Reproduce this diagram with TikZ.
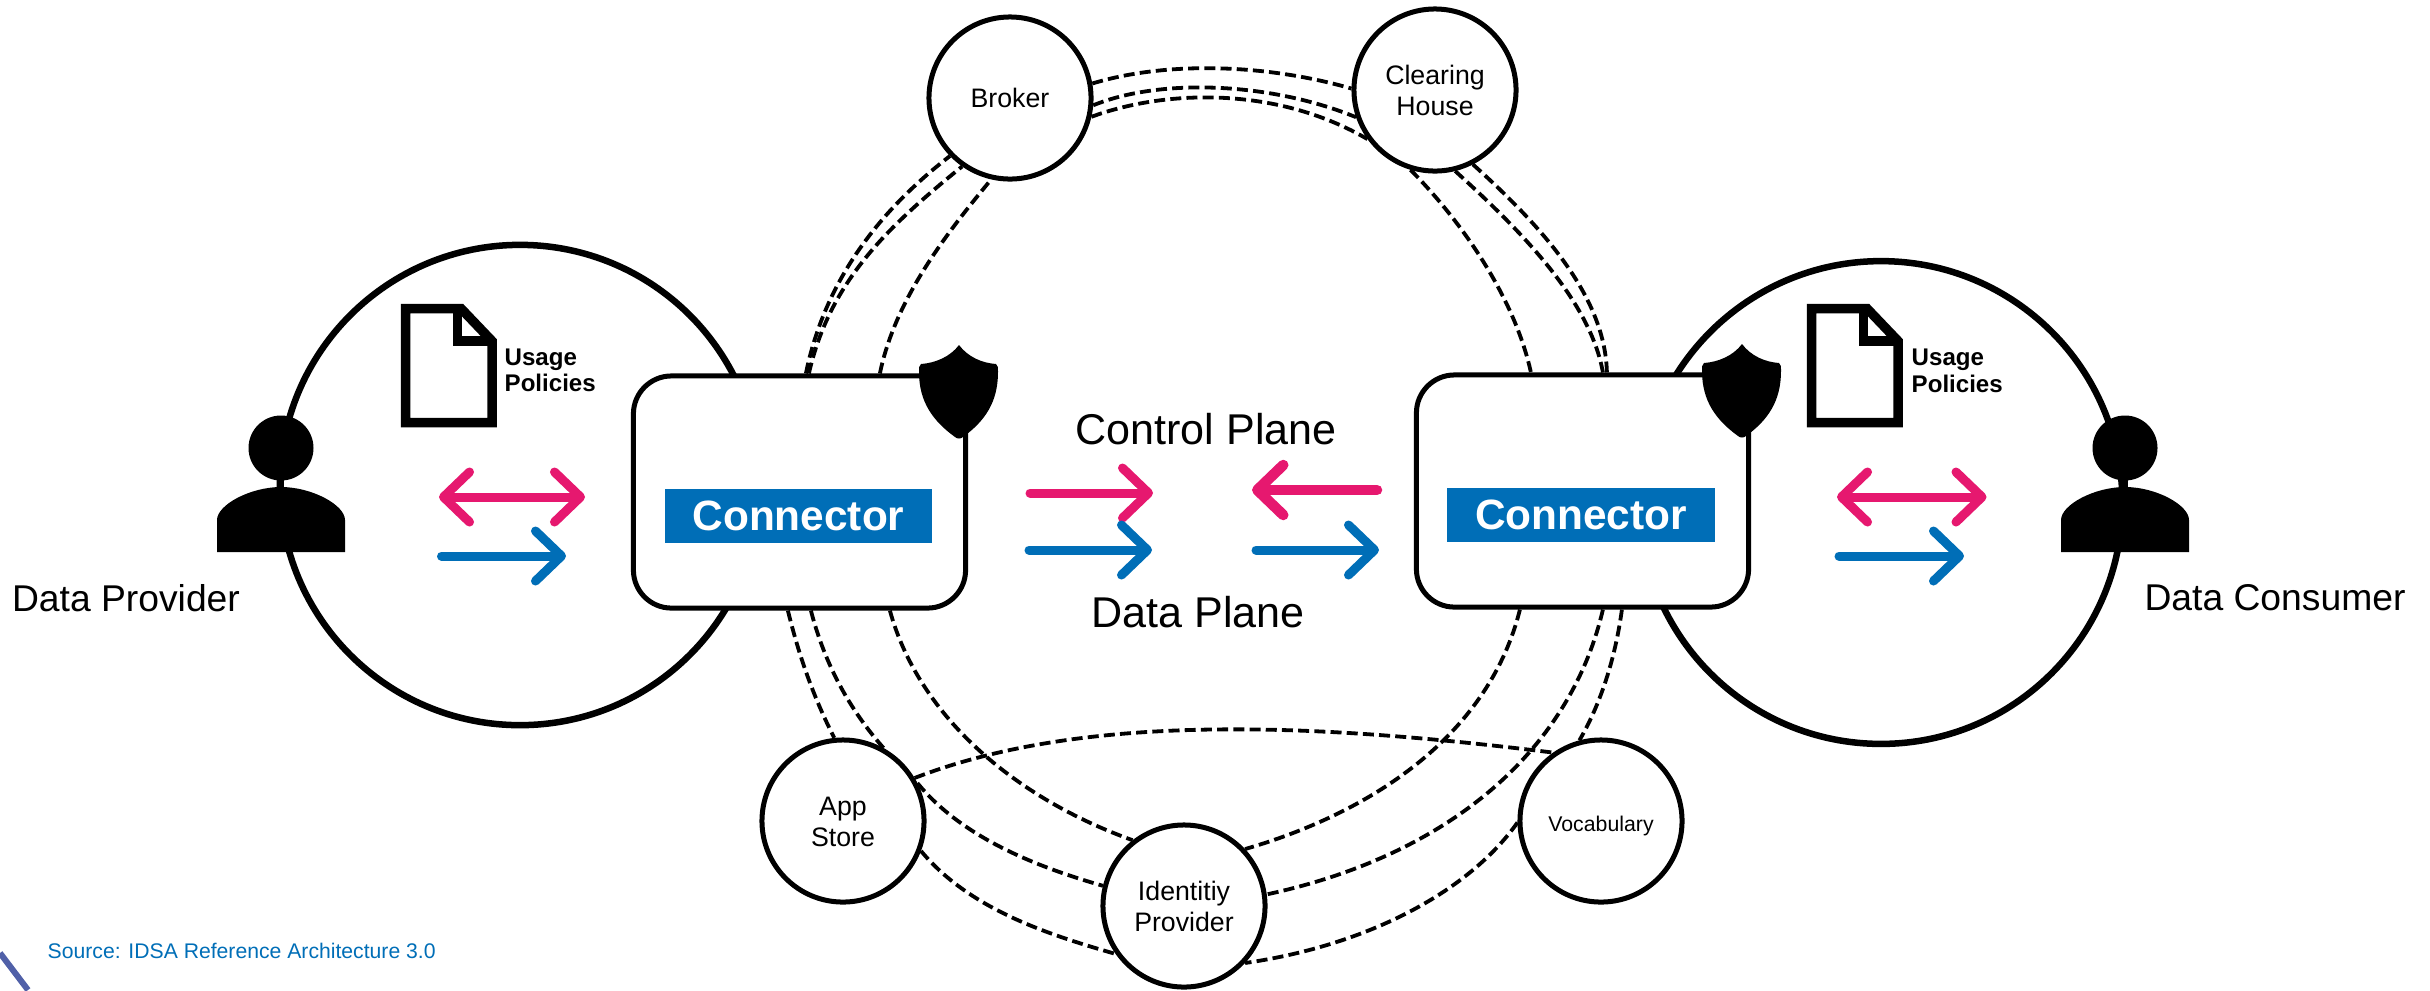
\documentclass[tikz,border=0pt]{standalone}
\usepackage{fontspec}
\setmainfont{Liberation Sans}
\usetikzlibrary{calc,arrows.meta}
\definecolor{idsablue}{HTML}{006EB7}
\definecolor{idsapink}{HTML}{E6186F}
\definecolor{cornerblue}{HTML}{5060A8}
\newcommand{\fsz}[2]{\fontsize{#1pt}{#2pt}\selectfont}
\newcommand{\svct}[2][-1.2pt]{\raisebox{#1}[\height][\depth]{\begin{tabular}{@{}c@{}}#2\end{tabular}}}
\tikzset{
  bigcirc/.style={circle,draw,line width=0.065cm,fill=white,minimum size=#1,inner sep=0pt},
  svc/.style={circle,draw,line width=0.05cm,fill=white,minimum size=1.62cm,inner sep=0pt,align=center,font=\fsz{7.6}{8.8}},
  connbox/.style={draw,line width=0.05cm,fill=white,rounded corners=0.38cm,minimum width=3.32cm,minimum height=2.32cm,inner sep=0pt},
  connlabel/.style={fill=idsablue,text=white,font=\fsz{12.05}{14}\bfseries,minimum width=2.67cm,minimum height=0.54cm,inner sep=0pt},
  plane/.style={font=\fsz{12.25}{14}},
  role/.style={font=\fsz{10.6}{12}},
  policy/.style={font=\fsz{6.85}{7.5}\bfseries,align=left,anchor=west,inner sep=0pt},
  source/.style={font=\fsz{6.02}{7},text=idsablue,anchor=base west,inner sep=0pt},
  link/.style={line width=0.038cm,dash pattern=on 0.11cm off 0.052cm},
  flowp/.style={line width=0.09cm,line cap=round,idsapink},
  flowb/.style={line width=0.09cm,line cap=round,idsablue},
  docicon/.pic={
    \draw[line width=0.095cm,miter limit=10] (405.5,308.5)--(461,308.5)--(492,341)--(492,422.5)--(405.5,422.5)--cycle;
    \draw[line width=0.095cm] (457.5,308.5)--(457.5,341)--(492,341);
  },
  personicon/.pic={
    \fill (281,448) circle (32.5);
    \fill (278,475) rectangle (284,495);
    \fill (217,552)--(217,520) .. controls (217,505) and (250,487) .. (281,487) .. controls (312,487) and (345,505) .. (345,520)--(345,552)--cycle;
  },
  shieldicon/.pic={
    \fill (959,345) .. controls (950,357) and (935,363) .. (921,364) .. controls (919,365) and (919,368) .. (919,372)
      .. controls (919,402) and (933,421) .. (955,437) .. controls (957,439) and (961,439) .. (963,437)
      .. controls (985,421) and (998,402) .. (998,372) .. controls (998,368) and (998,365) .. (996,364)
      .. controls (982,363) and (968,357) .. (959,345) -- cycle;
  },
}
\begin{document}
\begin{tikzpicture}[x=0.01cm,y=-0.01cm,
  tipstyle/.tip={Straight Barb[length=0.26cm,width=0.5cm,round]}]
\useasboundingbox (0,0) rectangle (2430,990);
\draw[cornerblue,line width=0.06cm] (0,953)--(28,990);
% big circles
\node[bigcirc=4.8cm] (provider) at (520,485) {};
\node[bigcirc=4.825cm] (consumer) at (1881,502.5) {};
% services
\node[svc] (broker) at (1010,98) {\svct[-0.85pt]{Broker}};
\node[svc] (clearing) at (1435,90) {\svct{Clearing\\House}};
\node[svc] (app) at (843,821) {\svct{App\\Store}};
\node[svc] (idp) at (1184,906) {\svct{Identitiy\\Provider}};
\node[svc,font=\fsz{6.05}{8}] (vocab) at (1601,821) {\svct[-1.3pt]{Vocabulary}};
% connector boxes
\node[connbox] (connL) at (799.5,492) {};
\node[connbox] (connR) at (1582.5,491) {};
\node[connlabel] (labelL) at (798.5,516) {Connector};
\node[connlabel] (labelR) at (1581,515) {Connector};
% links
\coordinate (lt) at (connL.north west);
\coordinate (lb) at (connL.south west);
\coordinate (rt) at (connR.north west);
\coordinate (rb) at (connR.south west);
\draw[link] ($(lt)+(175,0)$) .. controls (825,280) and (880,210) .. (broker.224);
\draw[link] ($(lt)+(178,0)$) .. controls (830,280) and (890,225) .. (broker.235.6);
\draw[link] ($(lt)+(249,0)$) .. controls (895,300) and (945,235) .. (broker.257);
\draw[link] (broker.10) .. controls (1170,60) and (1270,65) .. (clearing.179);
\draw[link] (broker.-5) .. controls (1160,78) and (1270,82) .. (clearing.199);
\draw[link] (broker.-13) .. controls (1170,88) and (1280,88) .. (clearing.216);
\draw[link] (clearing.253) .. controls (1465,225) and (1515,300) .. ($(rt)+(117,0)$);
\draw[link] (clearing.284) .. controls (1520,230) and (1590,300) .. ($(rt)+(189,0)$);
\draw[link] (clearing.297) .. controls (1540,225) and (1605,295) .. ($(rt)+(193,0)$);
\draw[link] ($(lb)+(157,0)$) .. controls (800,660) and (815,700) .. (app.96);
\draw[link] ($(lb)+(180,0)$) .. controls (825,665) and (850,710) .. (app.61);
\draw[link] (app.27) .. controls (960,835) and (1030,865) .. (idp.166);
\draw[link] ($(lb)+(259,0)$) .. controls (920,720) and (1020,800) .. (idp.128);
\draw[link] (app.-21) .. controls (970,910) and (1050,935) .. (idp.215);
\draw[link] ($(rb)+(106,0)$) .. controls (1490,730) and (1380,810) .. (idp.43);
\draw[link] ($(rb)+(189,0)$) .. controls (1570,750) and (1450,855) .. (idp.8);
\draw[link] ($(rb)+(208,0)$) .. controls (1615,660) and (1600,705) .. (vocab.105);
\draw[link] (vocab.181) .. controls (1470,890) and (1370,945) .. (idp.-43);
\draw[link] (app.31) .. controls (1090,710) and (1330,725) .. (vocab.125);
% icons
\pic at (0,0) {personicon};
\pic at (1844,0) {personicon};
\pic at (0,0) {docicon};
\pic at (1406,0) {docicon};
\pic at (0,0) {shieldicon};
\pic at (783,-1) {shieldicon};
% labels
\node[role] (dprov) at (126,598.5) {Data Provider};
\node[role] (dcons) at (2275,598) {Data Consumer};
\node[plane] (cplane) at (1206,429) {Control Plane};
\node[plane] (dplane) at (1198,612) {Data Plane};
\node[policy] (polL) at (504,370.5) {Usage\\Policies};
\node[policy] (polR) at (1911,371) {Usage\\Policies};
\node[source] (src) at (47,958) {Source: IDSA Reference Architecture 3.0};
% flows
\coordinate (a1) at (439,497); \coordinate (a2) at (585,497);
\coordinate (b1) at (441.5,556); \coordinate (b2) at (566,556);
\coordinate (c1) at (1030,493); \coordinate (c2) at (1153,493);
\coordinate (d1) at (1029,550); \coordinate (d2) at (1152,550);
\coordinate (e1) at (1377,490); \coordinate (e2) at (1252,490);
\coordinate (f1) at (1256,550); \coordinate (f2) at (1379,550);
\coordinate (g1) at (1837,497); \coordinate (g2) at (1986.5,497);
\coordinate (h1) at (1839,556); \coordinate (h2) at (1964,556);
\draw[flowp,tipstyle-tipstyle] (a1)--(a2);
\draw[flowb,-tipstyle] (b1)--(b2);
\draw[flowp,-tipstyle] (c1)--(c2);
\draw[flowb,-tipstyle] (d1)--(d2);
\draw[flowp,line width=0.105cm,-tipstyle] (e1)--(e2);
\draw[flowb,-tipstyle] (f1)--(f2);
\draw[flowp,tipstyle-tipstyle] (g1)--(g2);
\draw[flowb,-tipstyle] (h1)--(h2);
\end{tikzpicture}
\end{document}
